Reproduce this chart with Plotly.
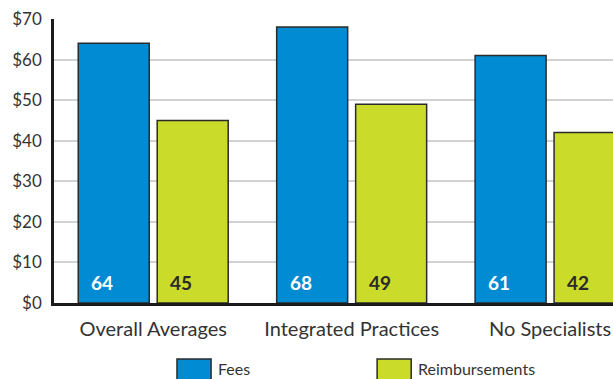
import plotly.graph_objects as go

# Chart data
categories = ["Overall Averages", "Integrated Practices", "No Specialists"]
fees = [64, 68, 61]
reimbursements = [45, 49, 42]
y_ticks = [0, 10, 20, 30, 40, 50, 60, 70]
y_tick_labels = ["$0", "$10", "$20", "$30", "$40", "$50", "$60", "$70"]

BLUE = "#008bd2"
LIME = "#cbdb2a"
EDGE = "#2b2b2b"
FONT = "Lato"
BARGAP = 0.204
BARGROUPGAP = 0.101

x = list(range(len(categories)))

fig = go.Figure()
fig.add_trace(go.Bar(x=x, y=fees, name="Fees", marker=dict(color=BLUE, line=dict(color=EDGE, width=1.5))))
fig.add_trace(go.Bar(x=x, y=reimbursements, name="Reimbursements",
                     marker=dict(color=LIME, line=dict(color=EDGE, width=1.5))))

# value labels near the bottom of each bar, left-aligned inside
slot = (1 - BARGAP) / 2
bar_w = slot * (1 - BARGROUPGAP)
annotations = []
for i in x:
    for k, (vals, col) in enumerate([(fees, "white"), (reimbursements, "#2a2a2a")]):
        center = i - slot / 2 + k * slot
        annotations.append(dict(
            x=center - bar_w / 2, y=0, xref="x", yref="y",
            text=f"<b>{vals[i]}</b>", showarrow=False,
            xanchor="left", yanchor="middle", xshift=11, yshift=21,
            font=dict(family=FONT, size=19, color=col)))

# legend drawn beneath the axis
legend_items = [("Fees", BLUE, 0.220, 0.281), ("Reimbursements", LIME, 0.578, 0.639)]
shapes = []
for label, col, x0, x1 in legend_items:
    shapes.append(dict(type="rect", xref="paper", yref="paper", x0=x0, x1=x1, y0=-0.275, y1=-0.197,
                       fillcolor=col, line=dict(color=EDGE, width=1.5)))
    annotations.append(dict(x=x1, y=-0.232, xref="paper", yref="paper", text=label, showarrow=False,
                            xanchor="left", yanchor="middle", xshift=5,
                            font=dict(family=FONT, size=16, color="#333333")))

fig.update_layout(
    width=613, height=379,
    margin=dict(l=54, r=0, t=19, b=76),
    paper_bgcolor="white", plot_bgcolor="white",
    barmode="group", bargap=BARGAP, bargroupgap=BARGROUPGAP,
    showlegend=False,
    shapes=shapes, annotations=annotations,
    xaxis=dict(range=[-0.5, 2.317], tickmode="array", tickvals=x, ticktext=categories,
               showline=True, linecolor="#1a1a1a", linewidth=2.5, showgrid=False, zeroline=False,
               ticks="", ticklabelstandoff=6,
               tickfont=dict(family=FONT, size=20, color="#333333")),
    yaxis=dict(range=[0, 70], tickmode="array", tickvals=y_ticks, ticktext=y_tick_labels,
               showline=True, linecolor="#1a1a1a", linewidth=2.5,
               showgrid=True, gridcolor="#d2d2d2", gridwidth=1.5, zeroline=False,
               ticks="", ticklabelstandoff=6,
               tickfont=dict(family=FONT, size=17, color="#333333")),
)

fig.write_html("out.html")
